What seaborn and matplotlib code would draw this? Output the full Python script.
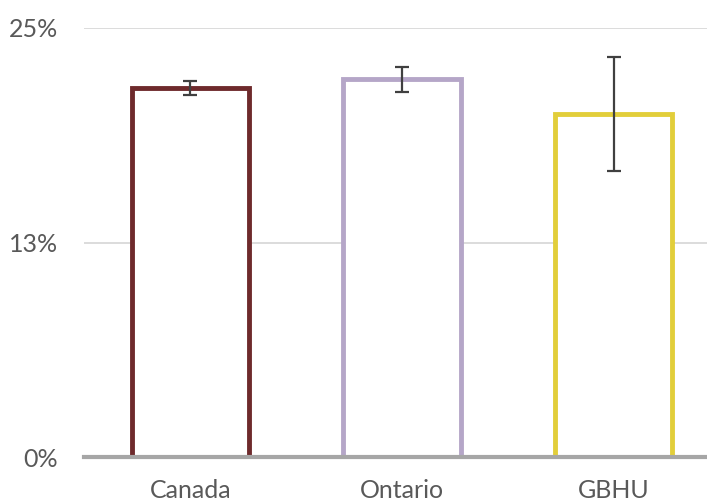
import numpy as np
import pandas as pd
import matplotlib
matplotlib.use("Agg")
import matplotlib.pyplot as plt
import seaborn as sns

# valores
regiones = ["Canada", "Ontario", "GBHU"]
porcentaje = [21.5, 22.0, 20.0]
error = [0.4, 0.7, 3.3]
colores = ["#6E2A2C", "#B5A6C8", "#E2CE3A"]
ticks_y = [0, 12.5, 25]
etiquetas_y = ["0%", "13%", "25%"]

df = pd.DataFrame({"region": regiones, "valor": porcentaje})

sns.set_theme(style="white")
plt.rcParams["font.family"] = ["Lato", "DejaVu Sans"]

fig = plt.figure(figsize=(7.07, 5.04), dpi=100)
ax = fig.add_axes([0.1195, 0.0927, 0.898, 0.8518])

sns.barplot(data=df, x="region", y="valor", hue="region", palette=colores,
            order=regiones, hue_order=regiones, legend=False, errorbar=None,
            width=0.554, linewidth=3.5, ax=ax)

# barras huecas con borde de color
for p, c in zip(ax.patches, colores):
    p.set_facecolor("white")
    p.set_edgecolor(c)
    p.set_zorder(2)

ax.errorbar(np.arange(len(regiones)), porcentaje, yerr=error, fmt="none",
            ecolor="#404040", elinewidth=1.6, capsize=4.7, capthick=1.6, zorder=4)

ax.set_xlim(-0.5, 2.5)
ax.set_ylim(0, 25)
ax.set_yticks(ticks_y)
ax.set_yticklabels(etiquetas_y)
for y in ticks_y[1:]:
    ax.axhline(y, color="#D9D9D9", linewidth=1.3, zorder=0)

for lado in ["top", "right", "left"]:
    ax.spines[lado].set_visible(False)
ax.spines["bottom"].set_color("#A6A6A6")
ax.spines["bottom"].set_linewidth(3)
ax.spines["bottom"].set_zorder(5)

ax.set_xlabel("")
ax.set_ylabel("")
ax.tick_params(axis="both", length=0, labelsize=18, colors="#595959")
ax.tick_params(axis="y", pad=19)
ax.tick_params(axis="x", pad=15.5)

fig.savefig("out.png", dpi=100)
